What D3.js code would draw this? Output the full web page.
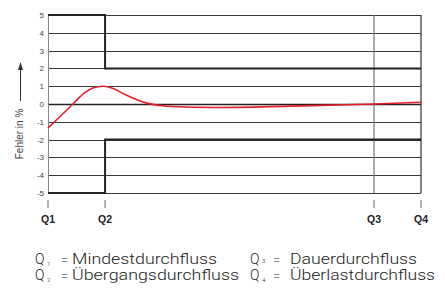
<!DOCTYPE html>
<html><head><meta charset="utf-8">
<script src="https://cdn.jsdelivr.net/npm/d3@7"></script>
<style>body{margin:0;background:#fff}svg{display:block}</style>
</head><body><svg id="c" width="445" height="291"></svg>
<script>
// data
const yTicks = [5,4,3,2,1,0,-1,-2,-3,-4,-5];
const qNames = ["Q1","Q2","Q3","Q4"];
const qPos = [0, 15.3, 87.4, 100];
const curveX = [0,6.7,9.6,12,14.7,17.5,20.5,26.5,32,45,65,87.4,100];
const curveY = [-1.35,0,0.6,0.9,1.0,0.87,0.55,0.05,-0.13,-0.2,-0.12,0,0.1];
const upperX = [0,15.3,15.3,100];
const upperY = [5,5,2,2];
const lowerX = [0,15.3,15.3,100];
const lowerY = [-5,-5,-2,-2];
const legendSubs = ["1","3","2","4"];
const legendTexts = ["Mindestdurchfluss","Dauerdurchfluss","Übergangsdurchfluss","Überlastdurchfluss"];

const svg = d3.select("#c");
const x = d3.scaleLinear().domain([0,100]).range([48,421]);
const y = d3.scaleLinear().domain([-5,5]).range([193,15]);

// horizontal grid
svg.append("g").selectAll("line").data(yTicks).join("line")
  .attr("x1",x(0)).attr("x2",x(100))
  .attr("y1",d=>Math.round(y(d))+0.5).attr("y2",d=>Math.round(y(d))+0.5)
  .attr("stroke",d=>d===0?"#222":"#3a3a3a").attr("stroke-width",d=>d===0?1.6:1);
// verticals
svg.append("line").attr("x1",x(0)+0.5).attr("x2",x(0)+0.5).attr("y1",y(5)).attr("y2",y(-5)).attr("stroke","#888").attr("stroke-width",1);
svg.append("line").attr("x1",x(qPos[2])).attr("x2",x(qPos[2])).attr("y1",y(5)).attr("y2",y(-5)).attr("stroke","#777").attr("stroke-width",1.2);
svg.append("line").attr("x1",x(100)).attr("x2",x(100)).attr("y1",y(5)).attr("y2",y(-5)).attr("stroke","#333").attr("stroke-width",1.2);

// limit lines
const lim = d3.line().x(d=>x(d[0])).y(d=>y(d[1]));
svg.append("path").attr("d",lim(upperX.map((v,i)=>[v,upperY[i]]))).attr("fill","none").attr("stroke","#222").attr("stroke-width",2);
svg.append("path").attr("d",lim(lowerX.map((v,i)=>[v,lowerY[i]]))).attr("fill","none").attr("stroke","#222").attr("stroke-width",2);

// curve
const cl = d3.line().x(d=>x(d[0])).y(d=>y(d[1])).curve(d3.curveMonotoneX);
svg.append("path").attr("d",cl(curveX.map((v,i)=>[v,curveY[i]]))).attr("fill","none").attr("stroke","#e3202b").attr("stroke-width",1.6);

// y tick labels
svg.append("g").selectAll("text").data(yTicks).join("text")
  .attr("x",44).attr("y",d=>y(d)+3).attr("text-anchor","end")
  .attr("font-family","Liberation Sans, Arial, sans-serif").attr("font-size",8).attr("fill","#444")
  .text(d=>d);

// y label + arrow
svg.append("text").attr("transform","translate(23,134) rotate(-90)").attr("text-anchor","middle")
  .attr("font-family","Liberation Sans, Arial, sans-serif").attr("font-size",10).attr("fill","#444").text("Fehler in %");
svg.append("line").attr("x1",20.5).attr("x2",20.5).attr("y1",101).attr("y2",66).attr("stroke","#333").attr("stroke-width",1);
svg.append("path").attr("d","M18,70 L20.5,62 L23,70 Z").attr("fill","#333");

// Q ticks and labels
svg.append("g").selectAll("line").data(qPos).join("line")
  .attr("x1",d=>x(d)).attr("x2",d=>x(d)).attr("y1",200).attr("y2",208).attr("stroke","#666").attr("stroke-width",1);
svg.append("g").selectAll("text").data(qNames).join("text")
  .attr("x",(d,i)=>x(qPos[i])).attr("y",223).attr("text-anchor","middle")
  .attr("font-family","Liberation Sans, Arial, sans-serif").attr("font-weight","bold").attr("font-size",10.5).attr("fill","#222")
  .text(d=>d);

// legend
const lx = [35,250,35,250], ly = [264,264,280,280];
const ex = [61,273,61,273];
const wx = [72,290,72,290];
const ww = [145,127,167,145];
const lg = svg.append("g").attr("font-family","Roboto, sans-serif").attr("font-weight",300).attr("fill","#222");
legendTexts.forEach((t,i)=>{
  lg.append("text").attr("x",lx[i]).attr("y",ly[i]).attr("font-size",14).text("Q");
  lg.append("text").attr("x",lx[i]+12).attr("y",ly[i]+(i===1?-1:2)).attr("font-size",6).text(legendSubs[i]);
  lg.append("text").attr("x",ex[i]).attr("y",ly[i]).attr("font-size",13).text("=");
  lg.append("text").attr("x",wx[i]).attr("y",ly[i]).attr("font-size",14)
    .attr("textLength",ww[i]).attr("lengthAdjust","spacingAndGlyphs").text(t);
});
</script></body></html>
